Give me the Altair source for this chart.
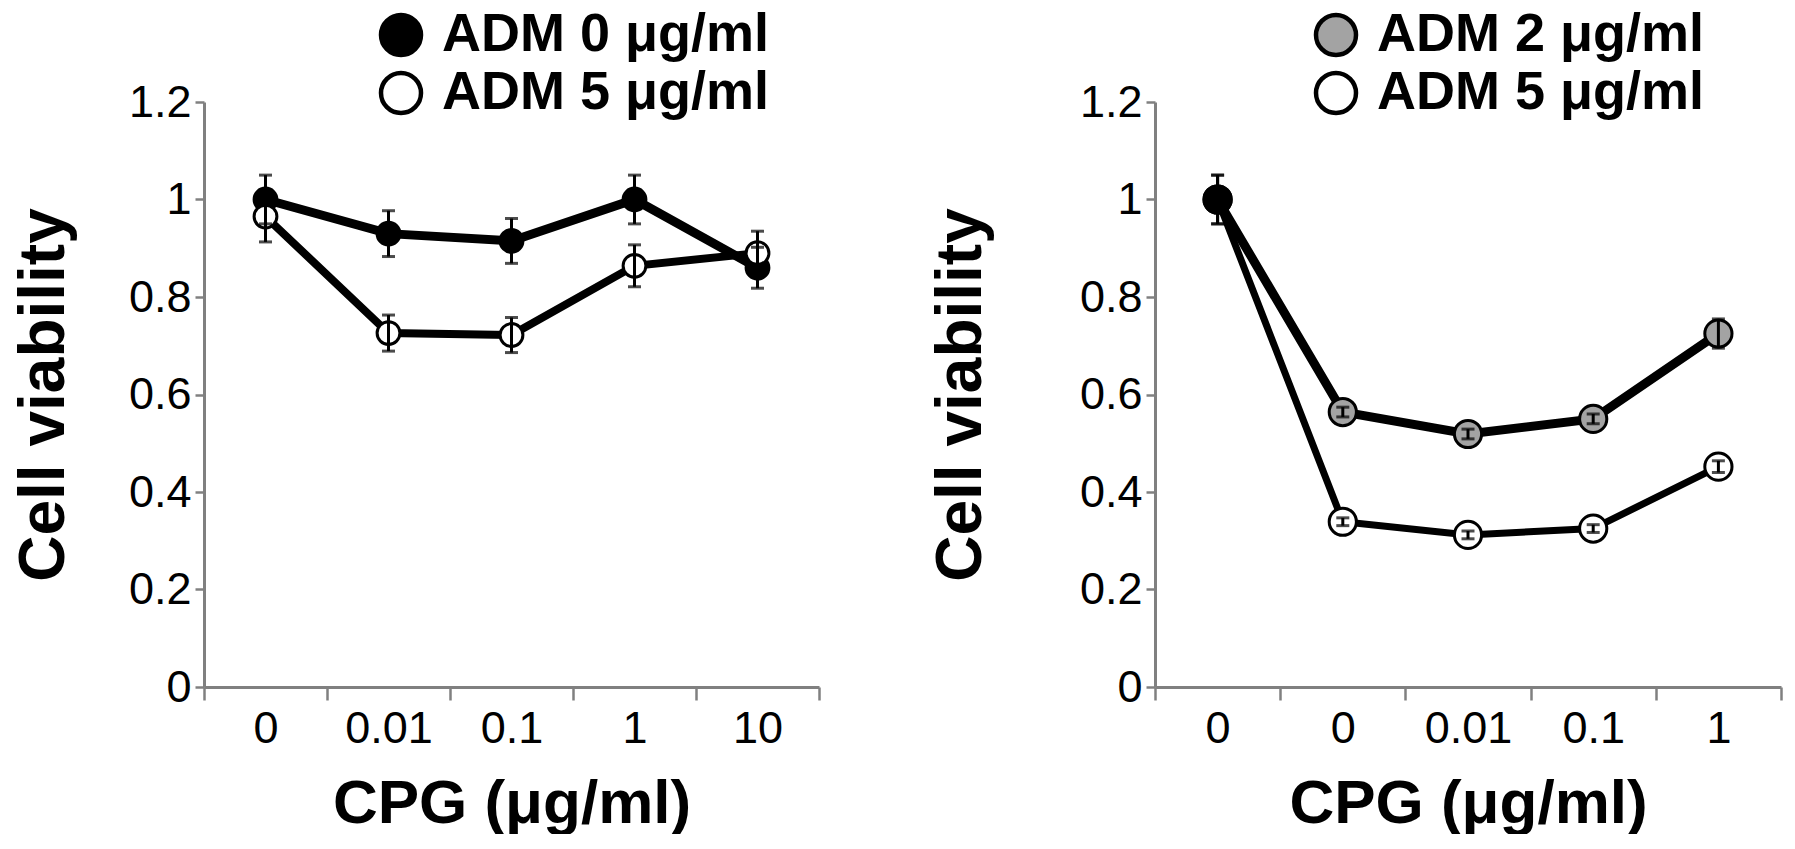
import altair as alt
import pandas as pd

# left panel: CPG alone vs CPG + ADM 5
LEFT_CPG = ["0", "0.01", "0.1", "1", "10"]
LEFT_ADM0 = [1.00, 0.93, 0.915, 1.00, 0.86]
LEFT_ADM0_SD = [0.05, 0.047, 0.046, 0.05, 0.042]
LEFT_ADM5 = [0.965, 0.726, 0.722, 0.864, 0.89]
LEFT_ADM5_SD = [0.052, 0.037, 0.036, 0.043, 0.045]

# right panel: first category is the untreated control
RIGHT_CPG = ["ctrl", "0", "0.01", "0.1", "1"]
RIGHT_ADM2 = [1.00, 0.564, 0.519, 0.55, 0.725]
RIGHT_ADM2_SD = [0.05, 0.01, 0.01, 0.01, 0.03]
RIGHT_ADM5 = [1.00, 0.339, 0.312, 0.325, 0.452]
RIGHT_ADM5_SD = [0.05, 0.008, 0.008, 0.008, 0.012]

Y_TICKS = [0, 0.2, 0.4, 0.6, 0.8, 1, 1.2]

ADM0 = "ADM 0 μg/ml"
ADM2 = "ADM 2 μg/ml"
ADM5 = "ADM 5 μg/ml"

FONT = "Liberation Sans"
plotHeight = 585


def make_frame(cats, series):
    rows = []
    for name, values, sds, first_marker, lw in series:
        for i, (c, v, s) in enumerate(zip(cats, values, sds)):
            rows.append({
                "cpg": c, "idx": i, "series": name, "value": v,
                "lo": v - s, "hi": v + s, "lw": lw,
                "marker": first_marker if i == 0 else name,
            })
    return pd.DataFrame(rows)


def panel(df, cats, label_expr, domain, colors, legend_values, width,
          legend_x, title_pad, point_size):
    def yenc(field):
        return alt.Y(field, scale=alt.Scale(domain=[0, 1.2]),
                     axis=alt.Axis(values=Y_TICKS, format="~g",
                                   title="Cell viability", titlePadding=title_pad))

    x = alt.X("cpg:N", sort=cats,
              scale=alt.Scale(type="band", paddingInner=0, paddingOuter=0),
              axis=alt.Axis(title="CPG (μg/ml)", labelExpr=label_expr,
                            tickBand="extent", labelAngle=0))
    base = alt.Chart(df).encode(x=x)

    lines = base.mark_line(color="black").encode(
        y=yenc("value:Q"), detail="series:N", order="idx:Q",
        strokeWidth=alt.StrokeWidth("lw:Q", scale=None))
    points = base.mark_point(shape="circle", filled=True, size=point_size,
                             opacity=1, stroke="black", strokeWidth=3).encode(
        y=yenc("value:Q"),
        fill=alt.Fill("marker:N", scale=alt.Scale(domain=domain, range=colors),
                      legend=alt.Legend(title=None, values=legend_values,
                                        orient="none", legendX=legend_x,
                                        legendY=-94)))
    bars = base.mark_rule(color="black", strokeWidth=3).encode(
        y=yenc("lo:Q"), y2="hi:Q")
    caps_lo = base.mark_tick(color="black", size=13, thickness=3).encode(y=yenc("lo:Q"))
    caps_hi = base.mark_tick(color="black", size=13, thickness=3).encode(y=yenc("hi:Q"))
    return alt.layer(lines, points, bars, caps_lo, caps_hi).properties(
        width=width, height=plotHeight)


left_df = make_frame(LEFT_CPG, [
    (ADM0, LEFT_ADM0, LEFT_ADM0_SD, ADM0, 9),
    (ADM5, LEFT_ADM5, LEFT_ADM5_SD, ADM5, 8),
])
right_df = make_frame(RIGHT_CPG, [
    (ADM5, RIGHT_ADM5, RIGHT_ADM5_SD, ADM0, 7),
    (ADM2, RIGHT_ADM2, RIGHT_ADM2_SD, ADM0, 9),
])

left = panel(left_df, LEFT_CPG, "datum.label", [ADM0, ADM5], ["black", "white"],
             [ADM0, ADM5], 615, 170, 52, 520)
right = panel(right_df, RIGHT_CPG, "datum.value == 'ctrl' ? '0' : datum.label",
              [ADM2, ADM5, ADM0], ["#a3a3a3", "white", "black"],
              [ADM2, ADM5], 626, 154, 86, 740)

chart = alt.hconcat(left, right, spacing=108).resolve_scale(
    x="independent", y="independent", fill="independent"
).resolve_legend(fill="independent").configure(
    font=FONT, padding={"left": 4, "top": 0, "right": 0, "bottom": 0}
).configure_view(stroke=None).configure_axis(
    grid=False, labelFont=FONT, labelFontSize=45, labelColor="black",
    titleFont=FONT, titleFontWeight="bold", titleColor="black",
    domainColor="#808080", domainWidth=3, tickColor="#808080", tickWidth=2.5,
).configure_axisY(
    tickSize=9, labelPadding=4, titleFontSize=64,
).configure_axisX(
    tickSize=13, labelPadding=6, titleFontSize=62, titlePadding=22,
).configure_legend(
    labelFont=FONT, labelFontSize=54, labelFontWeight="bold", labelColor="black",
    labelLimit=600, symbolType="circle", symbolSize=1600,
    symbolStrokeColor="black", symbolStrokeWidth=4.5, rowPadding=0,
    padding=0, labelOffset=14,
)

chart.save("out.html", embed_options={"renderer": "svg", "actions": False})
